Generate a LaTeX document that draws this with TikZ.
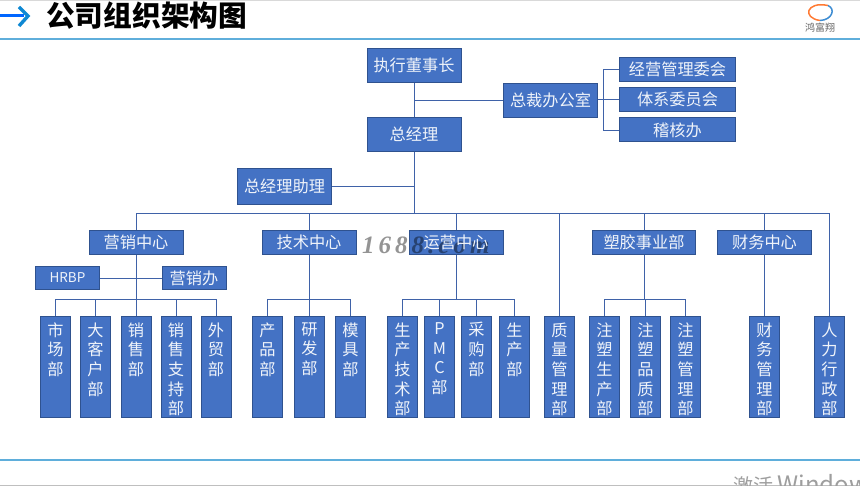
\documentclass[tikz,border=0pt]{standalone}
\usepackage{fontspec}
\setmainfont{Noto Sans CJK SC}
\newfontfamily\wmfont[LetterSpace=16]{Liberation Serif}
\definecolor{boxfill}{HTML}{4472C4}
\definecolor{boxline}{HTML}{2F528F}
\definecolor{wire}{HTML}{3F62A8}
\definecolor{rulecol}{HTML}{5FAEDB}
\tikzset{
  base/.style={draw=boxline,fill=boxfill,line width=1pt,text=white!92!boxfill,inner sep=0pt,align=center,font=\fontsize{16.2}{18}\selectfont},
  top/.style={base,minimum width=94pt,minimum height=34pt},
  center/.style={base,minimum width=94pt,minimum height=24pt},
  side/.style={base,minimum width=116pt,minimum height=24pt},
  aide/.style={base,minimum width=64pt,minimum height=23pt},
  leaf/.style={base,minimum width=30pt,minimum height=101pt,font=\fontsize{16.2}{19.7}\selectfont},
  wireline/.style={draw=wire,line width=0.9pt},
}
\newcommand{\vtext}[1]{\parbox[c][101pt][t]{28pt}{\centering\vspace{6pt}#1}}
\begin{document}
\begin{tikzpicture}[x=1pt,y=-1pt]
\useasboundingbox (0,0) rectangle (860,486);
\fill[white] (0,0) rectangle (860,486);
% header
\draw[rulecol,line width=1.2pt] (0,39) -- (860,39);
\draw[rulecol,line width=1.2pt] (0,460) -- (860,460);
\draw[color=black!15,line width=0.8pt] (0,0.5) -- (860,0.5);
\draw[color=black!25,line width=1pt] (0,485.5) -- (860,485.5);
\draw[color=blue!60!cyan,line width=3pt] (0,15.5) -- (24,15.5);
\draw[color=cyan!70!blue,line width=3.4pt,line join=miter] (19,7) -- (28,16) -- (19,26);
\node[anchor=west,inner sep=0pt,font=\fontsize{28.7}{32}\selectfont\bfseries] (title) at (46,16) {公司组织架构图};
\draw[color=orange!70!red!80,line width=1.5pt] (828,5.5) .. controls (806,1) and (802,18) .. (820,20.5);
\draw[color=cyan!60!blue!80,line width=1.5pt] (828,5.5) .. controls (836,9) and (832,20) .. (820,20.5);
\node[inner sep=0pt,text=black!60,font=\fontsize{10}{11}\selectfont] (logo) at (820,28) {鸿富翔};
% top nodes
\node[top] (ceo) at (414,65.5) {执行董事长};
\node[top] (gm) at (414,134.5) {总经理};
\node[top] (pres) at (550.5,100.5) {总裁办公室};
\node[side] (s1) at (677.5,69.5) {经营管理委会};
\node[side] (s2) at (677.5,99.5) {体系委员会};
\node[side] (s3) at (677.5,130) {稽核办};
\node[top,minimum height=36pt] (asst) at (284.5,186.5) {总经理助理};
% centres
\node[center] (mkt) at (136,242.5) {营销中心};
\node[center] (tech) at (309,242.5) {技术中心};
\node[center] (ops) at (456,242.5) {};
\node[center,minimum width=103pt] (plastic) at (644,242.5) {塑胶事业部};
\node[center] (fin) at (764.5,242.5) {财务中心};
\node[aide,font=\fontsize{13.5}{16}\selectfont] (hrbp) at (67.5,278) {HRBP};
\node[aide] (mo) at (194,278) {营销办};
% leaves
\node[leaf] (l1) at (55.5,367) {\vtext{市\\场\\部}};
\node[leaf] (l2) at (95.5,367) {\vtext{大\\客\\户\\部}};
\node[leaf] (l3) at (136,367) {\vtext{销\\售\\部}};
\node[leaf] (l4) at (176,367) {\vtext{销\\售\\支\\持\\部}};
\node[leaf] (l5) at (216,367) {\vtext{外\\贸\\部}};
\node[leaf] (t1) at (267.5,367) {\vtext{产\\品\\部}};
\node[leaf] (t2) at (309.5,367) {\vtext{研\\发\\部}};
\node[leaf] (t3) at (350.5,367) {\vtext{模\\具\\部}};
\node[leaf] (o1) at (402.5,367) {\vtext{生\\产\\技\\术\\部}};
\node[leaf] (o2) at (439.5,367) {\vtext{P\\M\\C\\部}};
\node[leaf] (o3) at (476.5,367) {\vtext{采\\购\\部}};
\node[leaf] (o4) at (514.5,367) {\vtext{生\\产\\部}};
\node[leaf] (q) at (559.5,367) {\vtext{质\\量\\管\\理\\部}};
\node[leaf] (p1) at (604.5,367) {\vtext{注\\塑\\生\\产\\部}};
\node[leaf] (p2) at (645.5,367) {\vtext{注\\塑\\品\\质\\部}};
\node[leaf] (p3) at (685.5,367) {\vtext{注\\塑\\管\\理\\部}};
\node[leaf] (f1) at (764.5,367) {\vtext{财\\务\\管\\理\\部}};
\node[leaf] (hr) at (829.5,367) {\vtext{人\\力\\行\\政\\部}};
% junctions
\coordinate (jp) at (414,100.5);
\coordinate (ja) at (414,186.5);
\coordinate (jb) at (414,213);
\coordinate (jside) at (603,99.5);
\coordinate (jm) at (136,299);
\coordinate (jt) at (309,299);
\coordinate (jo) at (456,299);
\coordinate (jq) at (644,299);
% connectors
\draw[wireline] (ceo) -- (gm);
\draw[wireline] (gm) -- (jb);
\draw[wireline] (jp) -- (pres);
\draw[wireline] (asst) -- (ja);
\draw[wireline] (pres.east |- jside) -- (jside);
\draw[wireline] (jside) |- (s1);
\draw[wireline] (jside) -- (s2);
\draw[wireline] (jside) |- (s3);
\foreach \n in {mkt,tech,ops,plastic,fin,q,hr}{\draw[wireline] (jb) -| (\n.north);}
\draw[wireline] (mkt) -- (l3);
\draw[wireline] (hrbp) -- (mo);
\foreach \n in {l1,l2,l4,l5}{\draw[wireline] (jm) -| (\n.north);}
\draw[wireline] (tech) -- (jt);
\foreach \n in {t1,t2,t3}{\draw[wireline] (jt) -| (\n.north);}
\draw[wireline] (ops) -- (jo);
\foreach \n in {o1,o2,o3,o4}{\draw[wireline] (jo) -| (\n.north);}
\draw[wireline] (plastic) -- (jq);
\foreach \n in {p1,p2,p3}{\draw[wireline] (jq) -| (\n.north);}
\draw[wireline] (fin) -- (f1);
% watermark, then the label of the box it covers
\node[anchor=west,inner sep=0pt,opacity=0.42,text=black,font=\wmfont\fontsize{25}{28}\selectfont\bfseries\itshape] (wm) at (362,245) {1688.com};
\node[inner sep=0pt,text=white!92!boxfill,font=\fontsize{16.2}{18}\selectfont] (opslabel) at (ops) {运营中心};
% activation notice, cut by the page edge
\begin{scope}
\clip (0,0) rectangle (860,485);
\node[anchor=west,inner sep=0pt,text=black!38,font=\fontsize{20}{24}\selectfont] (act) at (733,485) {激活 {\fontsize{24}{24}\selectfont Windows}};
\end{scope}
\end{tikzpicture}
\end{document}
